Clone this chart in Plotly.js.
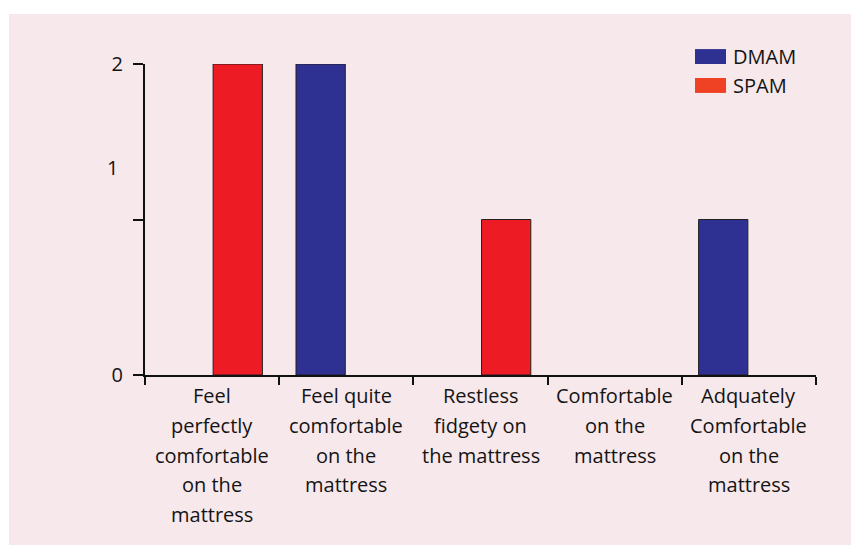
<!DOCTYPE html>
<html>
<head>
<meta charset="utf-8">
<script src="https://cdn.plot.ly/plotly-3.0.1.min.js"></script>
<style>
html,body{margin:0;padding:0;background:#ffffff;width:851px;height:545px;overflow:hidden;}
#chart{position:absolute;left:9px;top:14px;width:842px;height:531px;}
</style>
</head>
<body>
<div id="chart"></div>
<script>
const categories = [
  "Feel perfectly comfortable on the mattress",
  "Feel quite comfortable on the mattress",
  "Restless fidgety on the mattress",
  "Comfortable on the mattress",
  "Adquately Comfortable on the mattress"
];
const categoryLabelLines = [
  ["Feel", "perfectly", "comfortable", "on the", "mattress"],
  ["Feel quite", "comfortable", "on the", "mattress"],
  ["Restless", "fidgety on", "the mattress"],
  ["Comfortable", "on the", "mattress"],
  ["Adquately", "Comfortable", "on the", "mattress"]
];
const seriesNames = ["DMAM", "SPAM"];
const dmamValues = [0, 2, 0, 0, 1];
const spamValues = [2, 0, 1, 0, 0];
const yTickValues = [0, 1, 2];
const yTickText = ["0", "", "2"];
const yMidLabel = "1";

const FONT = "Open Sans, DejaVu Sans, sans-serif";
const TXT = "#141414";
const barColors = ["#2e3192", "#ed1c24"];
const legendColors = ["#2e3192", "#ef4123"];

function lineWidths(vals) { return vals.map(v => v === 0 ? 0 : 1); }

const traces = [
  {type: "bar", name: seriesNames[0], x: categories, y: dmamValues,
   marker: {color: barColors[0], line: {color: "#231f20", width: lineWidths(dmamValues)}}, showlegend: false, cliponaxis: false},
  {type: "bar", name: seriesNames[1], x: categories, y: spamValues,
   marker: {color: barColors[1], line: {color: "#231f20", width: lineWidths(spamValues)}}, showlegend: false, cliponaxis: false}
];

const shapes = [];
const annotations = [];
const legY = [[1.0, 1.048], [0.907, 0.955]];
seriesNames.forEach((n, i) => {
  shapes.push({type: "rect", xref: "paper", yref: "paper", x0: 0.8197, x1: 0.8659,
    y0: legY[i][0], y1: legY[i][1], fillcolor: legendColors[i], line: {width: 0}});
  annotations.push({xref: "paper", yref: "paper", x: 0.874, y: (legY[i][0] + legY[i][1]) / 2,
    xanchor: "left", yanchor: "middle", text: n, showarrow: false,
    font: {family: FONT, size: 20, color: TXT}});
});
annotations.push({xref: "paper", yref: "paper", x: -0.049, y: 0.666, xanchor: "center", yanchor: "middle",
  text: yMidLabel, showarrow: false, font: {family: FONT, size: 20, color: TXT}});

// multi-line category labels with the reference's wider line spacing
const firstLineY = -0.0675, lineStep = 0.0949;
categoryLabelLines.forEach((lines, i) => {
  lines.forEach((ln, j) => {
    annotations.push({xref: "x", yref: "paper", x: categories[i], y: firstLineY - j * lineStep,
      xanchor: "center", yanchor: "middle", text: ln, showarrow: false,
      font: {family: FONT, size: 20, color: TXT}});
  });
});

const layout = {
  width: 842, height: 531,
  margin: {l: 136, r: 35, t: 50, b: 170},
  paper_bgcolor: "#f7e8eb",
  plot_bgcolor: "#f7e8eb",
  barmode: "group",
  bargap: 0.235,
  bargroupgap: 0.04,
  font: {family: FONT, size: 20, color: TXT},
  xaxis: {
    type: "category",
    showline: true, linecolor: "#111111", linewidth: 2,
    ticks: "outside", tickson: "boundaries", ticklen: 8, tickwidth: 2, tickcolor: "#111111",
    showgrid: false, zeroline: false,
    showticklabels: false
  },
  yaxis: {
    range: [0, 2],
    showline: true, linecolor: "#111111", linewidth: 2,
    ticks: "outside", ticklen: 10, tickwidth: 2, tickcolor: "#111111",
    tickvals: yTickValues, ticktext: yTickText,
    ticklabelstandoff: 6,
    showgrid: false, zeroline: false,
    tickfont: {family: FONT, size: 20, color: TXT}
  },
  shapes: shapes,
  annotations: annotations
};

Plotly.newPlot("chart", traces, layout, {displayModeBar: false, staticPlot: true});
</script>
</body>
</html>
